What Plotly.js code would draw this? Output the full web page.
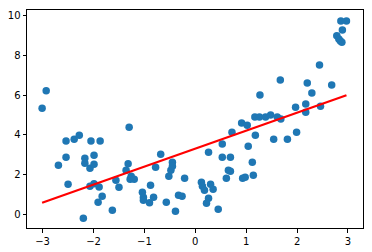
<!DOCTYPE html>
<html>
<head>
<meta charset="utf-8">
<script src="https://cdn.plot.ly/plotly-3.0.1.min.js"></script>
<style>html,body{margin:0;padding:0;background:#fff;}#chart{width:372px;height:252px;}</style>
</head>
<body>
<div id="chart"></div>
<script>
const xValues = [-3.01,-2.93,-2.69,-2.54,-2.54,-2.50,-2.38,-2.28,-2.20,-2.17,-2.17,-2.05,-2.07,-2.07,-1.99,-1.99,-1.99,-1.89,-1.87,-1.91,-1.83,-1.63,-1.56,-1.50,-1.36,-1.32,-1.30,-1.26,-1.28,-1.20,-1.04,-1.02,-1.02,-0.90,-0.88,-0.82,-0.78,-0.68,-0.57,-0.52,-0.48,-0.45,-0.45,-0.39,-0.33,-0.26,-0.21,0.26,0.53,0.53,0.69,0.72,1.12,0.65,0.69,0.61,0.93,0.98,1.14,0.12,0.14,0.30,0.18,0.35,0.26,0.22,0.45,1.04,1.18,1.54,1.81,1.99,0.91,1.02,1.17,1.26,1.38,1.48,1.61,1.68,1.27,1.67,2.20,2.29,2.44,2.68,1.97,2.17,2.17,2.46,2.86,2.97,2.89,2.78,2.82,2.85,2.88];
const yValues = [5.35,6.23,2.47,3.69,2.88,1.52,3.79,3.99,-0.20,2.83,2.58,3.69,2.32,1.41,2.98,2.52,1.54,1.38,3.69,0.61,0.91,0.20,1.72,1.36,2.22,2.55,4.39,1.92,1.77,1.77,1.11,0.86,0.71,0.58,1.46,0.86,2.37,3.03,0.61,1.92,2.22,2.63,2.42,0.15,0.96,0.91,1.82,3.13,3.54,2.88,2.88,4.14,2.63,2.22,2.17,1.82,1.82,1.87,1.97,1.62,1.41,1.52,1.21,1.26,0.81,0.56,0.25,3.43,3.99,3.79,3.79,4.14,4.60,4.49,4.90,4.90,4.90,5.01,4.90,4.80,6.01,6.77,6.62,6.11,7.53,6.52,5.40,5.56,5.15,5.45,9.75,9.75,9.29,9.00,8.84,8.74,8.67];
const fitX = [-3.01, 2.97];
const fitY = [0.58, 6.0];
const xTicks = [-3,-2,-1,0,1,2,3];
const yTicks = [0,2,4,6,8,10];

const axisCommon = {
  showgrid:false, zeroline:false, showline:true, mirror:true,
  linecolor:'#000', linewidth:1, ticks:'outside', ticklen:3.5, tickwidth:1, tickcolor:'#000',
  tickfont:{family:'DejaVu Sans', size:10, color:'#000'}, tickmode:'array'
};

Plotly.newPlot('chart', [
  {x:xValues, y:yValues, type:'scatter', mode:'markers',
   marker:{color:'#1f77b4', size:7.5, line:{width:0}}, hoverinfo:'none'},
  {x:fitX, y:fitY, type:'scatter', mode:'lines',
   line:{color:'#ff0000', width:2.2}, hoverinfo:'none'}
], {
  width:372, height:252,
  margin:{l:27, r:9.3, t:10.3, b:24, pad:0},
  paper_bgcolor:'#fff', plot_bgcolor:'#fff',
  showlegend:false,
  xaxis:Object.assign({}, axisCommon, {range:[-3.307,3.295], tickvals:xTicks, ticktext:xTicks.map(v=>v<0?'\u2212'+Math.abs(v):String(v))}),
  yaxis:Object.assign({}, axisCommon, {range:[-0.69,10.30], tickvals:yTicks, ticktext:yTicks.map(String)})
}, {staticPlot:true, displayModeBar:false});
</script>
</body>
</html>
